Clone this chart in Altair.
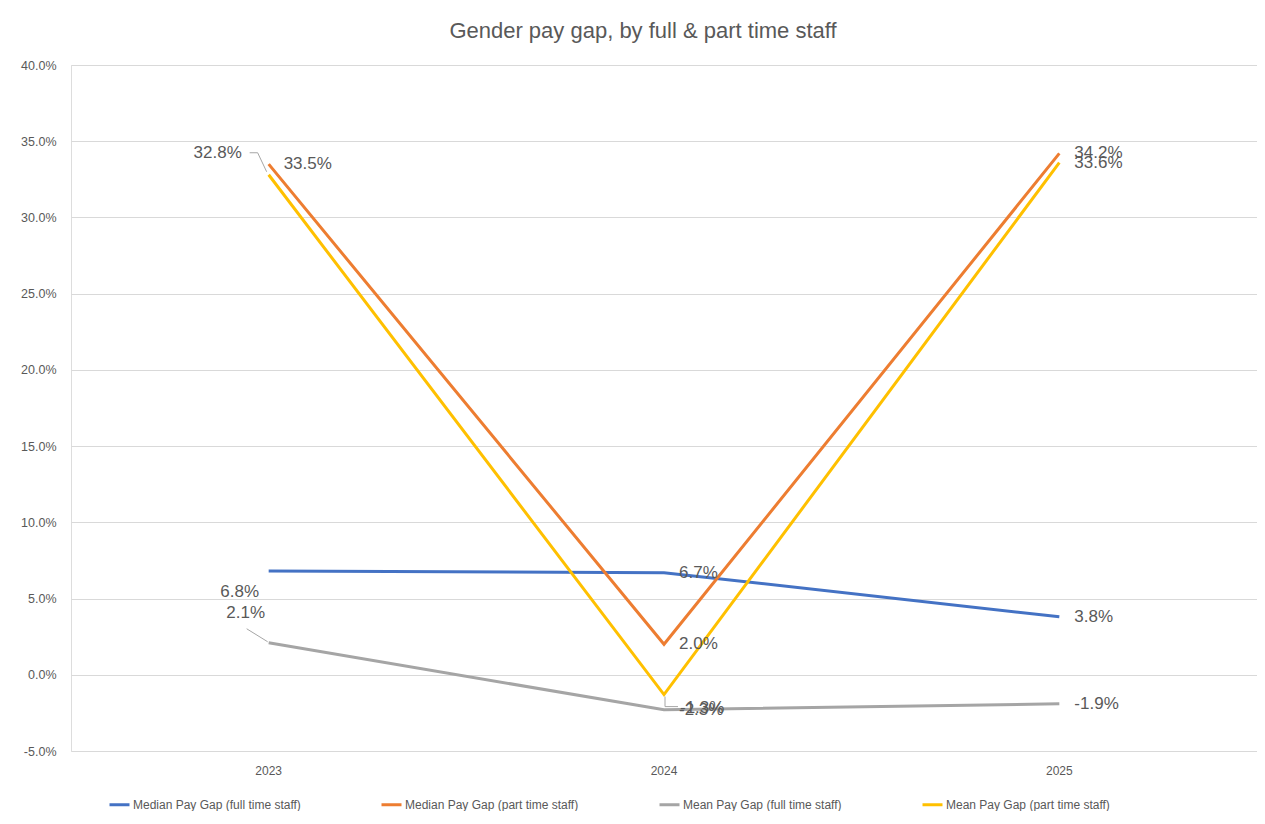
import altair as alt
import pandas as pd

years = ["2023", "2024", "2025"]
series_names = [
    "Median Pay Gap (full time staff)",
    "Median Pay Gap (part time staff)",
    "Mean Pay Gap (full time staff)",
    "Mean Pay Gap (part time staff)",
]
median_ft = [0.068, 0.067, 0.038]
median_pt = [0.335, 0.020, 0.342]
mean_ft = [0.021, -0.023, -0.019]
mean_pt = [0.328, -0.013, 0.336]
colors = ["#4472C4", "#ED7D31", "#A5A5A5", "#FFC000"]

rows = []
for name, vals in zip(series_names, [median_ft, median_pt, mean_ft, mean_pt]):
    for y, v in zip(years, vals):
        rows.append({"year": y, "series": name, "value": v, "key": name + "|" + y})
df = pd.DataFrame(rows)

FONT = "Liberation Sans"
TXT = "#595959"

x_enc = alt.X("year:N", title=None,
              scale=alt.Scale(domain=years, paddingInner=0, paddingOuter=0),
              axis=alt.Axis(labelAngle=0, labelColor=TXT, labelFontSize=12, labelFont=FONT,
                            domain=False, ticks=False, labelPadding=14))
y_enc = alt.Y("value:Q", title=None,
              scale=alt.Scale(domain=[-0.05, 0.40], nice=False, zero=False),
              axis=alt.Axis(format=".1%", values=[-0.05 + 0.05 * i for i in range(10)],
                            labelExpr="replace(datum.label, '\u2212', '-')",
                            labelColor=TXT, labelFontSize=12.5, labelFont=FONT,
                            domain=False, ticks=False, gridColor="#D9D9D9",
                            labelPadding=15, minExtent=58, maxExtent=58))

base = alt.Chart(df).transform_calculate(
    label="replace(format(datum.value, '.1%'), '\u2212', '-')"
)

lines = base.mark_line(strokeWidth=3).encode(
    x=x_enc, y=y_enc,
    color=alt.Color("series:N", scale=alt.Scale(domain=series_names, range=colors),
                    legend=alt.Legend(title=None, orient="none", direction="horizontal",
                                      legendX=37, legendY=728, symbolType="stroke",
                                      symbolStrokeWidth=3, symbolSize=400,
                                      labelFont=FONT, labelFontSize=12, labelColor=TXT,
                                      columnPadding=74, labelOffset=2, labelLimit=300)),
    order=alt.Order("year:N"),
)

special = [
    "Median Pay Gap (full time staff)|2023",
    "Mean Pay Gap (full time staff)|2023",
    "Mean Pay Gap (part time staff)|2023",
    "Mean Pay Gap (part time staff)|2024",
]

def lab(filter_expr, **kw):
    return base.transform_filter(filter_expr).mark_text(
        font=FONT, fontSize=17, color=TXT, baseline="middle", **kw
    ).encode(x=alt.X("year:N"), y=alt.Y("value:Q"), text=alt.Text("label:N"))

cond = " && ".join([f"datum.key != '{k}'" for k in special])
labels_default = lab(cond, align="left", dx=15)
lab1 = lab(f"datum.key == '{special[0]}'", align="center", dx=-29, dy=21)
lab2 = lab(f"datum.key == '{special[1]}'", align="center", dx=-23, dy=-30)
lab3 = lab(f"datum.key == '{special[2]}'", align="center", dx=-51, dy=-22)
lab4 = lab(f"datum.key == '{special[3]}'", align="left", dx=16, dy=13)

def leader(key, x0, y0, x1, y1):
    return base.transform_filter(f"datum.key == '{key}'").mark_rule(
        color="#A6A6A6", strokeWidth=1, xOffset=x0, yOffset=y0, x2Offset=x1, y2Offset=y1
    ).encode(x=alt.X("year:N"), y=alt.Y("value:Q"), x2=alt.X2("year:N"), y2=alt.Y2("value:Q"))

leaders = [
    leader(special[2], -19, -22, -11, -22),
    leader(special[2], -11, -22, -2, -3),
    leader(special[1], -22, -14, -1, -1),
    leader(special[3], 1, 2, 1, 12),
    leader(special[3], 1, 12, 14, 12),
]

chart = alt.layer(lines, *leaders, labels_default, lab1, lab2, lab3, lab4).properties(
    width=1186, height=686,
    title=alt.TitleParams("Gender pay gap, by full & part time staff", font=FONT, fontSize=22,
                          fontWeight="normal", color=TXT, anchor="middle", frame="bounds",
                          offset=16, dx=8),
    padding={"left": 5, "top": 12, "right": 0, "bottom": 0},
).configure_view(stroke=None).configure(background="white")

chart.save("out.html", embed_options={"renderer": "svg", "actions": False})
